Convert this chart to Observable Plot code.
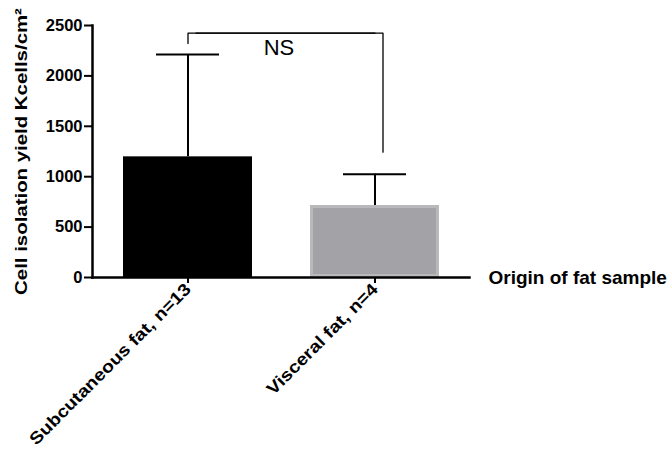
<!DOCTYPE html>
<html><head><meta charset="utf-8">
<script src="https://cdn.jsdelivr.net/npm/d3@7"></script>
<script src="https://cdn.jsdelivr.net/npm/@observablehq/plot@0.6"></script>
<style>body{margin:0;background:#fff} svg{font-family:"Liberation Sans",Arial,sans-serif;}</style>
</head><body><div id="chart"></div>
<script>
const categories = ["Subcutaneous fat, n=13", "Visceral fat, n=4"];
const means = [1197, 714];
const errors = [1015, 311];
const yTicks = [0, 500, 1000, 1500, 2000, 2500];
const bracketTop = 2424;
const bracketEnds = [2321, 1243];
const sigLabel = "NS";
const xLabel = "Origin of fat sample";
const yLabel = "Cell isolation yield Kcells/cm²";

const data = categories.map((c, i) => ({cat: c, mean: means[i], top: means[i] + errors[i]}));
const leftPath = [
  {cat: categories[0], y: bracketEnds[0]},
  {cat: categories[0], y: bracketTop},
  {cat: categories[1], y: bracketTop}
];
const rightPath = [
  {cat: categories[0], y: bracketTop},
  {cat: categories[1], y: bracketTop},
  {cat: categories[1], y: bracketEnds[1]}
];

const chart = Plot.plot({
  width: 671, height: 450,
  marginLeft: 92, marginRight: 202, marginTop: 25, marginBottom: 173,
  x: {domain: categories, paddingInner: 0.312, paddingOuter: 0.159},
  y: {domain: [0, 2500]},
  color: {domain: categories, range: ["#000000", "#a3a2a6"]},
  marks: [
    Plot.barY(data, {x: "cat", y: "mean", fill: "cat"}),
    Plot.barY(data.slice(1), {x: "cat", y: "mean", fill: "none", stroke: "#b9b9bc", strokeWidth: 3, inset: 1.5}),
    Plot.ruleX(data, {x: "cat", y1: "mean", y2: "top", stroke: "#000", strokeWidth: 2}),
    Plot.tickY(data, {x: "cat", y: "top", stroke: "#000", strokeWidth: 2, inset: 33}),
    Plot.line(leftPath, {x: "cat", y: "y", stroke: "#000", strokeWidth: 1.3}),
    Plot.line(rightPath, {x: "cat", y: "y", stroke: "#000", strokeWidth: 1.3, dx: 8}),
    Plot.text([sigLabel], {x: () => categories[0], y: () => bracketTop, text: d => d, dx: 91, dy: 6, lineAnchor: "top", fontSize: 22, fill: "#000"}),
    Plot.axisY({ticks: yTicks, tickFormat: d3.format("d"), tickSize: 8, tickPadding: 2, fontSize: 16.5, fontWeight: "bold", label: null, strokeWidth: 2}),
    Plot.axisX({tickSize: 6, tickPadding: 3, tickRotate: -45, fontSize: 17, fontWeight: "bold", label: null, strokeWidth: 2, className: "stretchx"}),
    Plot.frame({anchor: "left", strokeWidth: 2.5}),
    Plot.frame({anchor: "bottom", strokeWidth: 2.5}),
    Plot.text([xLabel], {frameAnchor: "bottom-right", text: d => d, dx: 19, textAnchor: "start", lineAnchor: "middle", fontSize: 19, fontWeight: "bold", fill: "#000"}),
    Plot.text([yLabel], {frameAnchor: "left", text: d => d, dx: -71, rotate: -90, lineAnchor: "middle", fontSize: 17, fontWeight: "bold", fill: "#000", className: "ytitle"})
  ]
});
document.getElementById("chart").appendChild(chart);
function stretch(sel, k, recenter) {
  chart.querySelectorAll(sel).forEach(el => {
    const len = el.getComputedTextLength();
    if (len > 0) {
      const L = len * k;
      el.setAttribute("textLength", L.toFixed(1));
      el.setAttribute("lengthAdjust", "spacingAndGlyphs");
      if (recenter) {
        el.style.textAnchor = "start";
        el.setAttribute("x", (-L / 2).toFixed(1));
      }
    }
  });
}
stretch(".stretchx text", 1.15, false);
stretch(".ytitle text", 1.2, true);
</script>
</body></html>
